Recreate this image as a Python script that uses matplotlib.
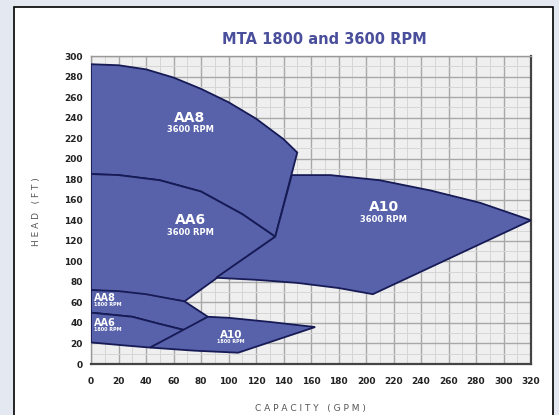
import matplotlib.pyplot as plt
from matplotlib.patches import Rectangle

# pump coverage regions, (capacity GPM, head FT)
aa8_3600_q = [0, 20, 40, 60, 80, 100, 120, 140, 150, 134, 110, 80, 50, 20, 0]
aa8_3600_h = [292, 291, 287, 279, 268, 255, 239, 219, 206, 124, 146, 168, 179, 184, 185]

aa6_3600_q = [0, 20, 50, 80, 110, 134, 100, 68, 40, 20, 0]
aa6_3600_h = [185, 184, 179, 168, 146, 124, 92, 61, 67, 70, 72]

a10_3600_q = [146, 174, 210, 247, 283, 320, 205, 180, 150, 120, 91, 134, 146]
a10_3600_h = [184, 184, 179, 169, 157, 140, 68, 74, 79, 82, 84, 124, 184]

aa8_1800_q = [0, 20, 40, 68, 85, 68, 50, 30, 0]
aa8_1800_h = [72, 71, 68, 61, 46, 33, 39, 46, 50]

aa6_1800_q = [0, 30, 50, 68, 43, 25, 0]
aa6_1800_h = [50, 46, 39, 33, 16, 18, 21]

a10_1800_q = [43, 85, 100, 130, 163, 107, 75, 43]
a10_1800_h = [16, 46, 45, 41, 36, 11, 13, 16]

labels = [("AA8", "3600 RPM", 72, 240, 10, 6),
          ("AA6", "3600 RPM", 72, 140, 10, 6),
          ("A10", "3600 RPM", 213, 153, 10, 6),
          ("AA8", "1800 RPM", 2, 64, 7, 3.5),
          ("AA6", "1800 RPM", 2, 40, 7, 3.5),
          ("A10", "1800 RPM", 102, 28, 7.5, 3.5)]

xticks = list(range(0, 321, 20))
yticks = list(range(0, 301, 20))

fill = "#5862ab"
edge = "#161a55"

fig = plt.figure(figsize=(5.59, 4.15), dpi=100)
fig.patch.set_facecolor("#e4e9f1")
fig.patches.append(Rectangle((14 / 559, -0.05), 539 / 559, 1 - 7 / 415 + 0.05,
                             transform=fig.transFigure, facecolor="white",
                             edgecolor="black", lw=1.2, zorder=-5))

ax = fig.add_axes([91 / 559, 51 / 415, 440 / 559, 308 / 415])
ax.set_zorder(2)
ax.set_facecolor("#efefef")
ax.set_xlim(0, 320)
ax.set_ylim(0, 300)

for q, h in [(aa8_3600_q, aa8_3600_h), (aa6_3600_q, aa6_3600_h),
             (a10_3600_q, a10_3600_h), (aa8_1800_q, aa8_1800_h),
             (aa6_1800_q, aa6_1800_h), (a10_1800_q, a10_1800_h)]:
    ax.fill(q, h, facecolor=fill, edgecolor=edge, lw=1.3, zorder=3)

for name, rpm, x, y, fs1, fs2 in labels:
    ha = "left" if x < 10 else "center"
    ax.text(x, y, name, color="white", fontsize=fs1, fontweight="bold",
            ha=ha, va="center", zorder=4)
    ax.text(x, y - (12 if fs1 > 8 else 6), rpm, color="white", fontsize=fs2,
            fontweight="bold", ha=ha, va="center", zorder=4)

ax.set_xticks(xticks)
ax.set_yticks(yticks)
ax.set_xticks(range(10, 320, 20), minor=True)
ax.set_yticks(range(10, 300, 20), minor=True)
ax.grid(which="major", color="#a8a8a8", lw=1.0, zorder=1)
ax.grid(which="minor", color="#d6d6d6", lw=0.7, zorder=1)
ax.set_axisbelow(True)
ax.tick_params(which="both", length=0, labelsize=6.5, colors="#222222", pad=6)
ax.tick_params(axis="x", pad=9)
for lab in ax.get_xticklabels() + ax.get_yticklabels():
    lab.set_fontweight("bold")
for side in ["top", "left"]:
    ax.spines[side].set_color("#999999")
    ax.spines[side].set_linewidth(1)
for side in ["bottom", "right"]:
    ax.spines[side].set_color("#444444")
    ax.spines[side].set_linewidth(1.6)

fig.text(324 / 559, 1 - 40 / 415, "MTA 1800 and 3600 RPM", color="#4a4f9c",
         fontsize=10.5, fontweight="bold", ha="center", va="center")
fig.text(36 / 559, 1 - 212 / 415, "H E A D   ( F T )", color="#555555",
         fontsize=6.5, rotation=90, ha="center", va="center")
fig.text(310 / 559, 1 - 408 / 415, "C A P A C I T Y   ( G P M )", color="#555555",
         fontsize=6.5, ha="center", va="center")

fig.savefig("out.png", dpi=100, facecolor=fig.get_facecolor())
